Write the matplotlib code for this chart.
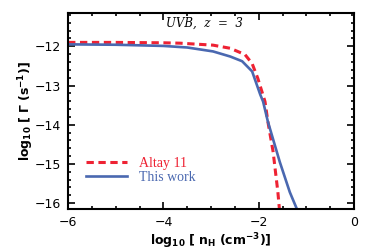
import matplotlib
matplotlib.use("Agg")
import matplotlib.pyplot as plt
from matplotlib.ticker import MultipleLocator

# log10 nH vs log10 Gamma
nhAltay = [-6.0, -5.0, -4.0, -3.65, -2.96, -2.60, -2.29, -2.14, -2.02, -1.87, -1.81, -1.70, -1.60, -1.55]
gammaAltay = [-11.90, -11.90, -11.91, -11.92, -11.97, -12.05, -12.21, -12.44, -12.82, -13.41, -13.92, -14.69, -15.72, -16.4]

nhThis = [-6.0, -5.0, -4.0, -3.5, -2.96, -2.60, -2.35, -2.14, -1.97, -1.91, -1.81, -1.56, -1.35, -1.15]
gammaThis = [-11.95, -11.96, -11.99, -12.03, -12.13, -12.26, -12.38, -12.64, -13.23, -13.41, -13.92, -14.95, -15.72, -16.3]

xTicks = [-6, -4, -2, 0]
yTicks = [-16, -15, -14, -13, -12]

redColor = "#ee2233"
blueColor = "#4a68b0"

fig = plt.figure(figsize=(3.74, 2.5), dpi=100)
ax = fig.add_axes([0.182, 0.164, 0.765, 0.784])

ax.plot(nhAltay, gammaAltay, color=redColor, linewidth=2.2, linestyle=(0, (2.4, 1.5)), label="Altay 11")
ax.plot(nhThis, gammaThis, color=blueColor, linewidth=1.9, label="This work")

ax.set_xlim(-6, 0)
ax.set_ylim(-16.15, -11.15)
ax.set_xticks(xTicks)
ax.set_yticks(yTicks)
ax.set_xticklabels(["\u2212" + str(abs(v)) if v < 0 else str(v) for v in xTicks])
ax.set_yticklabels(["\u2212" + str(abs(v)) for v in yTicks])
ax.xaxis.set_minor_locator(MultipleLocator(0.5))
ax.yaxis.set_minor_locator(MultipleLocator(0.2))
ax.tick_params(which="both", direction="in", top=True, right=True, width=1.2, labelsize=9)
ax.tick_params(which="major", length=5, pad=5)
ax.tick_params(which="minor", length=2.5)
for spine in ax.spines.values():
    spine.set_linewidth(1.5)

plt.rcParams["mathtext.fontset"] = "dejavusans"
ax.set_xlabel(r"$\mathbf{log_{10}\ [\ n_H\ (cm^{-3})]}$", fontsize=9, labelpad=2)
ax.set_ylabel(r"$\mathbf{log_{10}\ [\ \Gamma\ (s^{-1})]}$", fontsize=9, labelpad=-1)

ax.text(0.475, 0.95, "UVB,  z  =  3", transform=ax.transAxes, ha="center", va="center",
        fontsize=8.5, style="italic", family="DejaVu Serif")

leg = ax.legend(loc="lower left", bbox_to_anchor=(0.035, 0.085), frameon=False,
                prop={"family": "Liberation Serif", "size": 10}, handlelength=2.9, handletextpad=0.9,
                labelspacing=0.05, borderaxespad=0.2)
for text, line in zip(leg.get_texts(), leg.get_lines()):
    text.set_color(line.get_color())

fig.savefig("out.png", dpi=100)
